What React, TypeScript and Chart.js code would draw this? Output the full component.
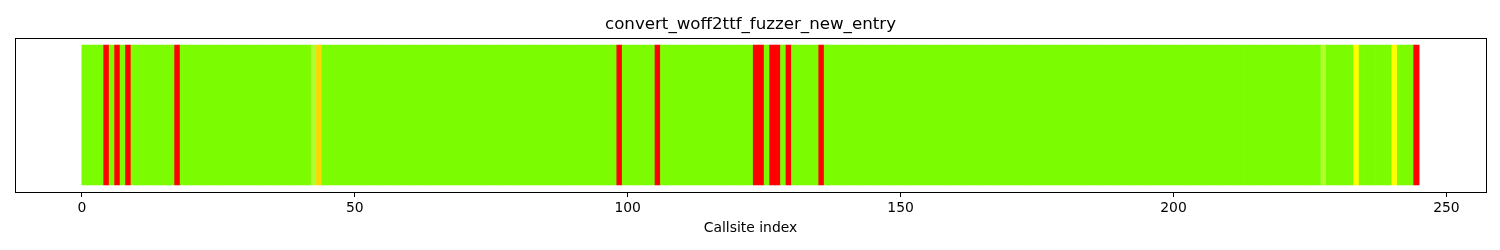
import React, { useEffect, useRef } from "react";
import { Chart, registerables } from "chart.js";

Chart.register(...registerables);

// Chart data
const chartTitle = "convert_woff2ttf_fuzzer_new_entry";
const xAxisLabel = "Callsite index";
const callsiteCount = 245; // callsites 0..244
const redCallsites = [4, 6, 8, 17, 98, 105, 123, 124, 126, 127, 129, 135, 244];
const yellowCallsites = [233, 240];
const goldCallsites = [43];
const lightGreenCallsites = [42, 227];
const xTickValues = [0, 50, 100, 150, 200, 250];

const COLORS = {
  green: "#7CFC00",
  red: "#FF0000",
  yellow: "#FFFF00",
  gold: "#FFD700",
  lightGreen: "#ADFF2F",
};

const callsiteIndices = Array.from({ length: callsiteCount }, (_, i) => i);

function colorFor(i: number): string {
  if (redCallsites.includes(i)) return COLORS.red;
  if (yellowCallsites.includes(i)) return COLORS.yellow;
  if (goldCallsites.includes(i)) return COLORS.gold;
  if (lightGreenCallsites.includes(i)) return COLORS.lightGreen;
  return COLORS.green;
}

const framePlugin = {
  id: "frame",
  afterDraw(chart: any) {
    const { ctx, chartArea } = chart;
    ctx.save();
    ctx.strokeStyle = "#000";
    ctx.lineWidth = 1;
    ctx.strokeRect(
      Math.round(chartArea.left) + 0.5,
      Math.round(chartArea.top) + 0.5,
      Math.round(chartArea.right - chartArea.left),
      Math.round(chartArea.bottom - chartArea.top)
    );
    ctx.restore();
  },
};

export default function App() {
  const ref = useRef<HTMLCanvasElement | null>(null);

  useEffect(() => {
    document.body.style.margin = "0";
    const canvas = ref.current;
    if (!canvas) return;
    const xMin = -0.05 * callsiteCount;
    const xMax = callsiteCount * 1.05;
    const chart = new Chart(canvas, {
      type: "bar",
      data: {
        datasets: [
          {
            data: callsiteIndices.map((i) => ({ x: i + 0.5, y: 1 })),
            backgroundColor: callsiteIndices.map(colorFor),
            borderWidth: 0,
            barPercentage: 1,
            categoryPercentage: 1,
          },
        ],
      },
      options: {
        animation: false,
        responsive: false,
        devicePixelRatio: 1,
        layout: { padding: { left: 15, right: 14, top: 0, bottom: 0 } },
        plugins: {
          legend: { display: false },
          tooltip: { enabled: false },
          title: {
            display: true,
            text: chartTitle,
            color: "#000",
            font: { family: "DejaVu Sans", size: 16.67, weight: "normal" },
            padding: { top: 15, bottom: 3 },
          },
        },
        scales: {
          x: {
            type: "linear",
            offset: false,
            min: xMin,
            max: xMax,
            afterBuildTicks: (scale: any) => {
              scale.ticks = xTickValues.map((v) => ({ value: v }));
            },
            afterFit: (scale: any) => {
              scale.height = 58;
            },
            grid: {
              display: true,
              offset: false,
              drawOnChartArea: false,
              drawTicks: true,
              tickLength: 5,
              tickWidth: 1,
              tickColor: "#000",
            },
            border: { display: false },
            ticks: {
              color: "#000",
              font: { family: "DejaVu Sans", size: 13.9 },
              padding: 3,
              maxRotation: 0,
              autoSkip: false,
            },
            title: {
              display: true,
              text: xAxisLabel,
              color: "#000",
              font: { family: "DejaVu Sans", size: 13.9 },
              padding: { top: 0, bottom: 13 },
            },
          },
          y: {
            display: false,
            min: -0.05,
            max: 1.05,
          },
        },
      },
      plugins: [framePlugin],
    });
    return () => chart.destroy();
  }, []);

  return (
    <div style={{ width: 1500, height: 250 }}>
      <canvas ref={ref} width={1500} height={250} />
    </div>
  );
}
